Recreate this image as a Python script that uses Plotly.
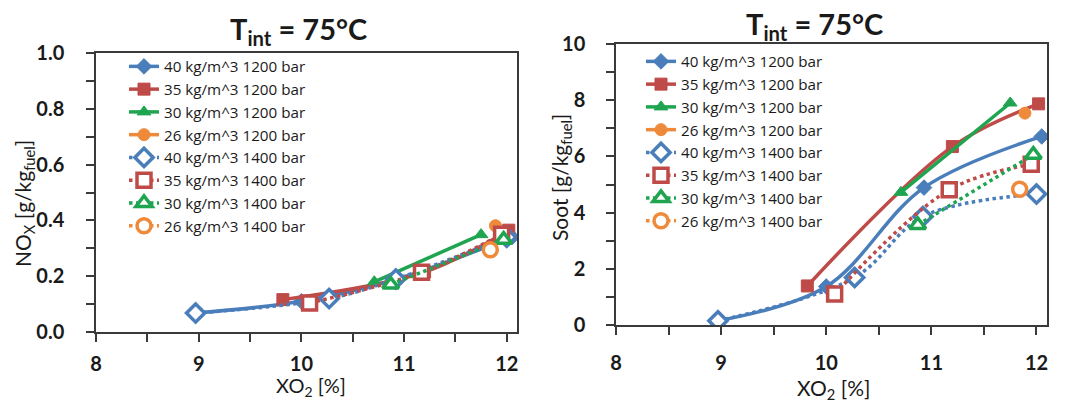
import plotly.graph_objects as go

# ---- data: XO2 [%], NOx [g/kg_fuel], Soot [g/kg_fuel] per operating point ----
xo2_40_1200 = [8.97, 10.00, 10.93, 12.05]
nox_40_1200 = [0.068, 0.110, 0.190, 0.340]
soot_40_1200 = [0.15, 1.37, 4.89, 6.71]

xo2_35_1200 = [9.82, 11.20, 12.02]
nox_35_1200 = [0.116, 0.215, 0.365]
soot_35_1200 = [1.39, 6.35, 7.87]

xo2_30_1200 = [10.71, 11.75]
nox_30_1200 = [0.180, 0.349]
soot_30_1200 = [4.72, 7.90]

xo2_26_1200 = [11.89]
nox_26_1200 = [0.381]
soot_26_1200 = [7.54]

xo2_40_1400 = [8.97, 10.27, 10.92, 12.00]
nox_40_1400 = [0.068, 0.120, 0.190, 0.340]
soot_40_1400 = [0.15, 1.69, 3.86, 4.66]

xo2_35_1400 = [10.08, 11.17, 11.95]
nox_35_1400 = [0.104, 0.214, 0.350]
soot_35_1400 = [1.10, 4.81, 5.72]

xo2_30_1400 = [10.87, 11.97]
nox_30_1400 = [0.170, 0.331]
soot_30_1400 = [3.56, 6.06]

xo2_26_1400 = [11.84]
nox_26_1400 = [0.295]
soot_26_1400 = [4.83]

x_ticks = [8, 9, 10, 11, 12]
nox_ticks = [0.0, 0.2, 0.4, 0.6, 0.8, 1.0]
soot_ticks = [0, 2, 4, 6, 8, 10]

series = [
    ("40 kg/m^3 1200 bar", xo2_40_1200, nox_40_1200, soot_40_1200, "#4A7EBB", "diamond", False),
    ("35 kg/m^3 1200 bar", xo2_35_1200, nox_35_1200, soot_35_1200, "#BE4B48", "square", False),
    ("30 kg/m^3 1200 bar", xo2_30_1200, nox_30_1200, soot_30_1200, "#1FA550", "triangle-up", False),
    ("26 kg/m^3 1200 bar", xo2_26_1200, nox_26_1200, soot_26_1200, "#EE8A3A", "circle", False),
    ("40 kg/m^3 1400 bar", xo2_40_1400, nox_40_1400, soot_40_1400, "#4A7EBB", "diamond", True),
    ("35 kg/m^3 1400 bar", xo2_35_1400, nox_35_1400, soot_35_1400, "#BE4B48", "square", True),
    ("30 kg/m^3 1400 bar", xo2_30_1400, nox_30_1400, soot_30_1400, "#1FA550", "triangle-up", True),
    ("26 kg/m^3 1400 bar", xo2_26_1400, nox_26_1400, soot_26_1400, "#EE8A3A", "circle", True),
]

FONT = "Lato"
W, H = 1066, 412

fig = go.Figure()


def add_series(x, y, name, color, symbol, open_marker, xa, ya, legend):
    if open_marker:
        marker = dict(symbol=symbol, size=14, color="white",
                      line=dict(color=color, width=3.5))
        line = dict(color=color, width=3.5, dash="dot", shape="spline")
    else:
        marker = dict(symbol=symbol, size=12, color=color,
                      line=dict(color=color, width=1))
        line = dict(color=color, width=3.5, shape="spline")
    fig.add_trace(go.Scatter(
        x=x, y=y, name=name, mode="lines+markers",
        line=line, marker=marker, xaxis=xa, yaxis=ya, legend=legend,
    ))


for name, xs, nox, soot, color, sym, op in series:
    add_series(xs, nox, name, color, sym, op, "x", "y", "legend")
for name, xs, nox, soot, color, sym, op in series:
    add_series(xs, soot, name, color, sym, op, "x2", "y2", "legend2")


def px_x(p):
    return p / W


def px_y(p):
    return 1 - p / H


tick_style = dict(ticks="outside", ticklen=8, tickcolor="#3a3a3a", tickwidth=1.5)
axis_common = dict(
    showline=True, linecolor="#3a3a3a", linewidth=1.5, mirror=True,
    showgrid=False, zeroline=False, automargin=False,
    tickfont=dict(family=FONT, size=20, color="#1a1a1a", weight="bold"),
    **tick_style,
)
legend_font = dict(family="Open Sans", size=15.2, color="#1a1a1a")

fig.update_layout(
    template="none",
    width=W, height=H,
    margin=dict(l=0, r=0, t=0, b=0, autoexpand=False),
    paper_bgcolor="white", plot_bgcolor="white",
    font=dict(family=FONT, color="#1a1a1a"),
    xaxis=dict(domain=[px_x(96), px_x(517)], range=[8, 12.1], anchor="y",
               tickvals=x_ticks, ticklabelstandoff=5,
               minor=dict(dtick=0.5, **tick_style),
               **axis_common),
    yaxis=dict(domain=[px_y(332), px_y(53)], range=[0, 1.0], anchor="x",
               tickvals=nox_ticks, tickformat=".1f", ticklabelstandoff=18,
               minor=dict(dtick=0.1, **tick_style),
               **axis_common),
    xaxis2=dict(domain=[px_x(616), px_x(1047)], range=[8, 12.1], anchor="y2",
                tickvals=x_ticks, ticklabelstandoff=11,
                minor=dict(dtick=0.5, **tick_style),
                **axis_common),
    yaxis2=dict(domain=[px_y(325), px_y(44)], range=[0, 10], anchor="x2",
                tickvals=soot_ticks, ticklabelstandoff=17,
                minor=dict(dtick=1, **tick_style),
                **axis_common),
    legend=dict(x=px_x(124), y=px_y(50), xanchor="left", yanchor="top",
                bgcolor="rgba(0,0,0,0)", borderwidth=0,
                font=legend_font, tracegroupgap=0),
    legend2=dict(x=px_x(641), y=px_y(45), xanchor="left", yanchor="top",
                 bgcolor="rgba(0,0,0,0)", borderwidth=0,
                 font=legend_font, tracegroupgap=0),
    showlegend=True,
)

title_text = "T<sub>int</sub> = 75°C"
annots = [
    dict(text=title_text, x=px_x(298), y=px_y(31), font=dict(size=29, weight="bold")),
    dict(text=title_text, x=px_x(814), y=px_y(26), font=dict(size=29, weight="bold")),
    dict(text="XO<sub>2</sub> [%]", x=px_x(311), y=px_y(386), font=dict(size=20)),
    dict(text="XO<sub>2</sub> [%]", x=px_x(833), y=px_y(389), font=dict(size=21)),
    dict(text="NO<sub>X</sub> [g/kg<sub>fuel</sub>]", x=px_x(24), y=px_y(204),
         textangle=-90, font=dict(size=21)),
    dict(text="Soot [g/kg<sub>fuel</sub>]", x=px_x(561), y=px_y(178),
         textangle=-90, font=dict(size=21)),
]
for a in annots:
    a.update(xref="paper", yref="paper", showarrow=False,
             xanchor="center", yanchor="middle")
    a["font"].update(family=FONT, color="#1a1a1a")
fig.update_layout(annotations=annots)

fig.write_html("out.html")
